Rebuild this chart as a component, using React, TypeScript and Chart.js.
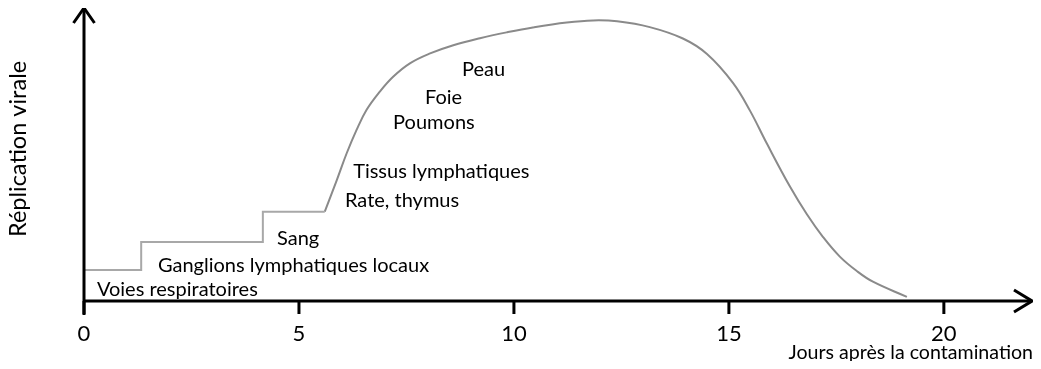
import React, { useEffect, useRef } from "react";
import { Chart, registerables } from "chart.js";

Chart.register(...registerables);

// Axis ticks (days)
const TICK_VALUES = [0, 5, 10, 15, 20];

// Step phase (days, replication level)
const STEP_DAYS = [0, 1.33, 1.33, 4.16, 4.16, 5.6];
const STEP_LEVELS = [10.6, 10.6, 20.2, 20.2, 30.6, 30.6];

// Smooth phase
const CURVE_DAYS = [5.6, 5.88, 6.11, 6.34, 6.57, 6.88, 7.19, 7.58, 8.05, 8.59, 9.21, 9.83, 10.44, 11.23, 11.84, 12.4, 13.16, 13.93, 14.49, 15.09, 15.49, 15.88, 16.42, 16.81, 17.19, 17.58, 17.98, 18.35, 19.14];
const CURVE_LEVELS = [30.6, 41.4, 50.6, 58.6, 65.4, 71.7, 76.8, 81.4, 84.8, 87.6, 90.0, 92.0, 93.7, 95.4, 96.1, 95.8, 93.8, 89.9, 84.6, 74.8, 65.2, 54.0, 39.2, 29.8, 21.9, 15.2, 10.2, 6.6, 1.4];

// Organ annotations
const LABEL_TEXTS = ["Voies respiratoires", "Ganglions lymphatiques locaux", "Sang", "Rate, thymus", "Tissus lymphatiques", "Poumons", "Foie", "Peau"];
const LABEL_DAYS = [0.3, 1.72, 4.49, 6.07, 6.26, 7.19, 7.93, 8.79];
const LABEL_LEVELS = [1.7, 9.9, 19.2, 32.2, 42.1, 58.9, 67.5, 77.1];

const X_TITLE = "Jours après la contamination";
const Y_TITLE = "Réplication virale";

const FONT = "Lato, 'Open Sans', sans-serif";

const axesPlugin = {
  id: "customAxes",
  afterDatasetsDraw(chart: any) {
    const ctx = chart.ctx as CanvasRenderingContext2D;
    const xs = chart.scales.x;
    const ys = chart.scales.y;
    const area = chart.chartArea;
    const x0 = xs.getPixelForValue(0);
    const y0 = ys.getPixelForValue(0);
    ctx.save();
    ctx.strokeStyle = "#000";
    ctx.fillStyle = "#000";
    ctx.lineWidth = 3;
    ctx.lineCap = "butt";
    // y axis
    ctx.beginPath();
    ctx.moveTo(x0, area.top - 1);
    ctx.lineTo(x0, y0 + 14);
    ctx.stroke();
    // x axis
    ctx.beginPath();
    ctx.moveTo(x0, y0);
    ctx.lineTo(area.right, y0);
    ctx.stroke();
    // arrows
    ctx.lineJoin = "miter";
    ctx.beginPath();
    ctx.moveTo(x0 - 10.5, area.top + 14);
    ctx.lineTo(x0, area.top - 1);
    ctx.lineTo(x0 + 10.5, area.top + 14);
    ctx.stroke();
    ctx.beginPath();
    ctx.moveTo(area.right - 18, y0 - 11);
    ctx.lineTo(area.right, y0);
    ctx.lineTo(area.right - 18, y0 + 11);
    ctx.stroke();
    // ticks
    ctx.font = `22px ${FONT}`;
    ctx.textAlign = "center";
    ctx.textBaseline = "alphabetic";
    TICK_VALUES.forEach((v) => {
      const px = xs.getPixelForValue(v);
      ctx.beginPath();
      ctx.moveTo(px, y0);
      ctx.lineTo(px, y0 + 13);
      ctx.stroke();
      ctx.fillText(String(v), px, y0 + 40);
    });
    // annotations
    ctx.font = `20px ${FONT}`;
    ctx.textAlign = "left";
    LABEL_TEXTS.forEach((t, i) => {
      ctx.fillText(t, xs.getPixelForValue(LABEL_DAYS[i]), ys.getPixelForValue(LABEL_LEVELS[i]));
    });
    // x title
    ctx.font = `19.6px ${FONT}`;
    ctx.textAlign = "right";
    ctx.fillText(X_TITLE, area.right + 1, y0 + 58);
    // y title
    ctx.font = `23.5px ${FONT}`;
    ctx.save();
    ctx.translate(10, 141);
    ctx.rotate(-Math.PI / 2);
    ctx.textAlign = "center";
    ctx.textBaseline = "middle";
    ctx.fillText(Y_TITLE, 0, 0);
    ctx.restore();
    ctx.restore();
  },
};

export default function App() {
  const ref = useRef<HTMLCanvasElement | null>(null);
  useEffect(() => {
    if (!ref.current) return;
    const chart = new Chart(ref.current, {
      type: "line",
      data: {
        datasets: [
          {
            data: STEP_DAYS.map((d, i) => ({ x: d, y: STEP_LEVELS[i] })),
            borderColor: "#a8a8a8",
            borderWidth: 2,
            pointRadius: 0,
            tension: 0,
          },
          {
            data: CURVE_DAYS.map((d, i) => ({ x: d, y: CURVE_LEVELS[i] })),
            borderColor: "#8a8a8a",
            borderWidth: 2,
            pointRadius: 0,
            tension: 0.4,
          },
        ],
      },
      options: {
        animation: false,
        responsive: true,
        maintainAspectRatio: false,
        layout: { padding: { left: 76, right: 1, top: 1, bottom: 60 } },
        plugins: { legend: { display: false }, tooltip: { enabled: false } },
        scales: {
          x: { type: "linear", min: 0, max: 22.05, display: false },
          y: { type: "linear", min: 0, max: 100, display: false },
        },
      },
      plugins: [axesPlugin],
    });
    return () => chart.destroy();
  }, []);
  return (
    <div style={{ position: "relative", width: "100%", height: 353 }}>
      <canvas ref={ref} />
    </div>
  );
}
